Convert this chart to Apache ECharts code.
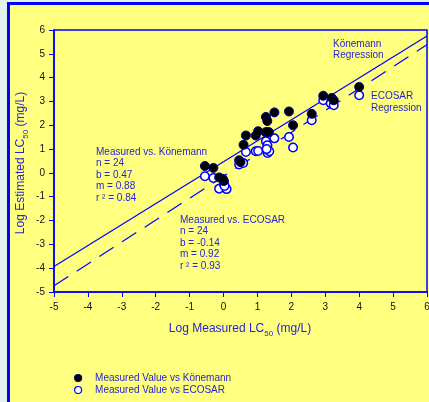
<!DOCTYPE html>
<html>
<head>
<meta charset="utf-8">
<script src="https://cdn.jsdelivr.net/npm/echarts@6/dist/echarts.min.js"></script>
<style>
	html, body { margin: 0; padding: 0; background: #e2f2ed; }
	#charts { width: 429px; height: 402px; }
</style>
</head>
<body>
<div id="charts"></div>
<script>
// 测定值 vs Könemann
var measuredKon = [-0.55, -0.30, -0.13, 0.01, -0.02, 0.46, 0.50, 0.59, 0.66, 0.95, 1.02, 1.24, 1.34, 1.30, 1.25, 1.29, 1.50, 1.93, 2.05, 2.60, 2.94, 3.19, 3.25, 4.00];
var estimatedKon = [0.29, 0.21, -0.19, -0.34, -0.25, 0.53, 0.45, 1.18, 1.57, 1.57, 1.75, 1.71, 1.71, 1.72, 2.35, 2.18, 2.54, 2.58, 2.00, 2.48, 3.24, 3.15, 3.05, 3.61];
// 测定值 vs ECOSAR
var measuredEco = [-0.55, -0.30, -0.13, 0.01, 0.09, 0.03, 0.46, 0.58, 0.66, 0.95, 1.02, 1.25, 1.29, 1.30, 1.35, 1.27, 1.50, 1.93, 2.05, 2.60, 2.94, 3.16, 3.25, 4.00];
var estimatedEco = [-0.14, -0.21, -0.66, -0.47, -0.68, -0.55, 0.35, 0.42, 0.88, 0.91, 0.92, 1.33, 1.16, 0.84, 0.91, 1.00, 1.45, 1.51, 1.07, 2.21, 3.05, 2.92, 2.84, 3.26];
// 回归线端点
var konLineX = [-5, 6];
var konLineY = [-3.93, 5.75];
var ecoLineX = [-5, 6];
var ecoLineY = [-4.74, 5.38];
var axisTicks = [-5, -4, -3, -2, -1, 0, 1, 2, 3, 4, 5, 6];
var legendNames = ['Measured Value vs Könemann', 'Measured Value vs ECOSAR'];

// 简单的深拷贝合并
var $ = {
	extend: function (deep, target) {
		for (var k = 2; k < arguments.length; k++) {
			var src = arguments[k];
			for (var key in src) {
				if (src[key] && typeof src[key] === 'object' && !Array.isArray(src[key])) {
					target[key] = $.extend(true, target[key] || {}, src[key]);
				} else {
					target[key] = src[key];
				}
			}
		}
		return target;
	}
};

var ScatterChart = {

	font: '"Liberation Sans", Arial, sans-serif',
	blue: '#0000ff',
	textBlue: '#2525d2',

	init: function () {
		this.renderChart();
	},

	pairs: function (xs, ys) {
		var arr = [];
		for (var i = 0; i < xs.length; i++) {
			arr.push([xs[i], ys[i]]);
		}
		return arr;
	},

	renderChart: function () {
		var _self = this;
		var myChart = echarts.init(document.getElementById('charts'));

		var axisCommon = {
			type: 'value',
			min: axisTicks[0],
			max: axisTicks[axisTicks.length - 1],
			interval: 1,
			splitLine: { show: false },
			axisLine: { show: true, onZero: false, lineStyle: { color: _self.blue, width: 1.5 } },
			axisTick: { show: true, inside: false, length: 5, lineStyle: { color: _self.blue, width: 1 } },
			axisLabel: { color: '#111', fontSize: 10, fontFamily: _self.font, showMinLabel: true, showMaxLabel: true }
		};

		var option = {
			animation: false,
			backgroundColor: '#e2f2ed',
			textStyle: { fontFamily: _self.font },
			grid: {
				left: 54, right: 2, top: 30, bottom: 110,
				show: true,
				borderColor: _self.blue,
				borderWidth: 1.5,
				backgroundColor: 'transparent',
				outerBoundsMode: 'none',
				containLabel: false
			},
			xAxis: $.extend(true, {}, axisCommon, { axisLabel: { margin: 10 } }),
			yAxis: $.extend(true, {}, axisCommon, { axisLabel: { margin: 9 } }),
			legend: {
				orient: 'vertical',
				left: 74,
				top: 373,
				height: 40,
				padding: 0,
				itemWidth: 8,
				itemHeight: 7,
				itemGap: 2,
				selectedMode: false,
				itemStyle: { borderWidth: 1.2 },
				textStyle: { color: _self.textBlue, fontSize: 10, fontFamily: _self.font, padding: [0, 0, 0, 8] },
				data: legendNames
			},
			graphic: [
				{
					type: 'rect', z: -10, silent: true,
					shape: { x: 8.5, y: 3.5, width: 440, height: 420 },
					style: { fill: '#ffff80', stroke: _self.blue, lineWidth: 3 }
				},
				{
					type: 'text', left: 96, top: 146, z: 100,
					style: { text: 'Measured vs. Könemann\nn = 24\nb = 0.47\nm = 0.88\nr ² = 0.84', fill: _self.textBlue, font: '10px ' + _self.font, lineHeight: 11.6 }
				},
				{
					type: 'text', left: 180, top: 214, z: 100,
					style: { text: 'Measured vs. ECOSAR\nn = 24\nb = -0.14\nm = 0.92\nr ² = 0.93', fill: _self.textBlue, font: '10px ' + _self.font, lineHeight: 11.6 }
				},
				{
					type: 'text', left: 333, top: 38, z: 100,
					style: { text: 'Könemann\nRegression', fill: _self.textBlue, font: '10px ' + _self.font, lineHeight: 11.5 }
				},
				{
					type: 'text', left: 371, top: 90, z: 100,
					style: { text: 'ECOSAR\nRegression', fill: _self.textBlue, font: '10px ' + _self.font, lineHeight: 12 }
				},
				{
					// x 轴标题
					type: 'text', x: 240, y: 330, z: 100,
					style: {
						text: '{a|Log Measured LC}{s|50}{a| (mg/L)}',
						align: 'center', verticalAlign: 'middle',
						rich: {
							a: { fontSize: 12, fill: _self.textBlue, fontFamily: _self.font, verticalAlign: 'bottom', padding: [0, 0, 3, 0] },
							s: { fontSize: 8, fill: _self.textBlue, fontFamily: _self.font, verticalAlign: 'bottom' }
						}
					}
				},
				{
					// y 轴标题
					type: 'text', x: 22, y: 163, rotation: Math.PI / 2, z: 100,
					style: {
						text: '{a|Log Estimated LC}{s|50}{a| (mg/L)}',
						align: 'center', verticalAlign: 'middle',
						rich: {
							a: { fontSize: 12, fill: _self.textBlue, fontFamily: _self.font, verticalAlign: 'bottom', padding: [0, 0, 3, 0] },
							s: { fontSize: 8, fill: _self.textBlue, fontFamily: _self.font, verticalAlign: 'bottom' }
						}
					}
				}
			],
			series: [
				{
					name: 'Könemann Regression',
					type: 'line',
					data: _self.pairs(konLineX, konLineY),
					symbol: 'none',
					silent: true,
					lineStyle: { color: _self.blue, width: 1.2 }
				},
				{
					name: 'ECOSAR Regression',
					type: 'line',
					data: _self.pairs(ecoLineX, ecoLineY),
					symbol: 'none',
					silent: true,
					lineStyle: { color: _self.blue, width: 1.2, type: [17, 10] }
				},
				{
					name: legendNames[1],
					type: 'scatter',
					data: _self.pairs(measuredEco, estimatedEco),
					symbol: 'circle',
					symbolSize: 8.5,
					itemStyle: { color: '#ffffff', borderColor: _self.blue, borderWidth: 1.5, opacity: 1 },
					z: 3
				},
				{
					name: legendNames[0],
					type: 'scatter',
					data: _self.pairs(measuredKon, estimatedKon),
					symbol: 'circle',
					symbolSize: 9,
					itemStyle: { color: '#000000', borderColor: '#000080', borderWidth: 1, opacity: 1 },
					z: 4
				}
			]
		};

		myChart.setOption(option);
	}
};

ScatterChart.init();
</script>
</body>
</html>
